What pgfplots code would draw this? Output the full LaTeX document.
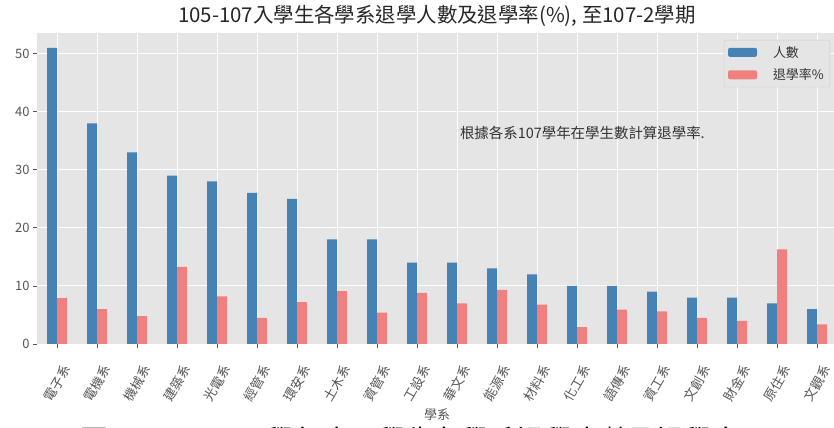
\documentclass[border=0pt]{standalone}
\usepackage{fontspec}
\setmainfont{Noto Sans CJK TC}
\usepackage{pgfplots}
\pgfplotsset{compat=1.18}
\definecolor{bgc}{HTML}{E5E5E5}
\definecolor{cblue}{HTML}{4682B4}
\definecolor{cred}{HTML}{F08080}
\definecolor{tc}{HTML}{555555}
\begin{document}
\begin{tikzpicture}
\begin{axis}[
  at={(37bp,84bp)}, anchor=south west,
  width=800bp, height=311bp, scale only axis,
  xmin=-0.5, xmax=19.5, ymin=0, ymax=53.55,
  clip mode=individual,
  axis background/.style={fill=bgc},
  axis line style={draw=none},
  grid=major, grid style={white, line width=0.9bp},
  xtick={0,...,19},
  xticklabels={電子系,電機系,機械系,建築系,光電系,經管系,環安系,土木系,資管系,工設系,華文系,能源系,材料系,化工系,語傳系,資工系,文創系,財金系,原住系,文觀系},
  ytick={0,10,20,30,40,50},
  xtick pos=bottom, ytick pos=left,
  tick align=outside, major tick length=4bp,
  tick style={tc, line width=0.8bp},
  xticklabel shift=35bp,
  xticklabel style={rotate=60, anchor=center, font=\fontsize{13}{15}\selectfont, text=tc},
  yticklabel style={font=\fontsize{13}{15}\selectfont, text=tc},
  /pgf/number format/assume math mode=true,
  legend style={at={(1,1)}, anchor=north east, xshift=-7bp, yshift=-7bp,
    fill=bgc, draw=white!80!black, rounded corners=2bp,
    font=\fontsize{13}{15}\selectfont, text=black!80,
    inner xsep=4bp, inner ysep=4bp, row sep=6bp,
    /tikz/every odd column/.append style={column sep=14bp}},
  legend cell align=left,
  legend image code/.code={\path[#1, draw=none] (0bp,-4.5bp) rectangle (29bp,4.5bp);},
]
\addplot[ybar, bar width=0.25, bar shift=-0.125, fill=cblue, draw=none]
  coordinates {(0,51) (1,38) (2,33) (3,29) (4,28) (5,26) (6,25) (7,18) (8,18) (9,14)
    (10,14) (11,13) (12,12) (13,10) (14,10) (15,9) (16,8) (17,8) (18,7) (19,6)};
\addlegendentry{人數}
\addplot[ybar, bar width=0.25, bar shift=0.125, fill=cred, draw=none]
  coordinates {(0,7.9) (1,6.0) (2,4.8) (3,13.3) (4,8.2) (5,4.5) (6,7.2) (7,9.1) (8,5.4) (9,8.8)
    (10,7.0) (11,9.3) (12,6.8) (13,2.9) (14,5.9) (15,5.6) (16,4.5) (17,4.0) (18,16.3) (19,3.4)};
\addlegendentry{退學率\%}
\node[anchor=west, font=\fontsize{14.5}{16}\selectfont, text=black!80, inner sep=0]
  at (axis cs:10.07,36.3) {根據各系107學年在學生數計算退學率.};
\node[anchor=south, font=\fontsize{20.5}{22}\selectfont, text=black!85, inner sep=0]
  at (rel axis cs:0.5,1) [yshift=6bp] {105-107入學生各學系退學人數及退學率(\%), 至107-2學期};
\node[anchor=center, font=\fontsize{13}{15}\selectfont, text=tc, inner sep=0]
  at (rel axis cs:0.5,0) [yshift=-71bp] {學系};
\end{axis}
\node[anchor=north west, inner sep=0, font=\fontsize{28}{30}\selectfont] at (80bp,1bp)
  {圖 4、105-107 學年度入學生各學系退學人數及退學率};
\pgfresetboundingbox
\path[use as bounding box] (0,0) rectangle (834bp,428bp);
\end{tikzpicture}
\end{document}
